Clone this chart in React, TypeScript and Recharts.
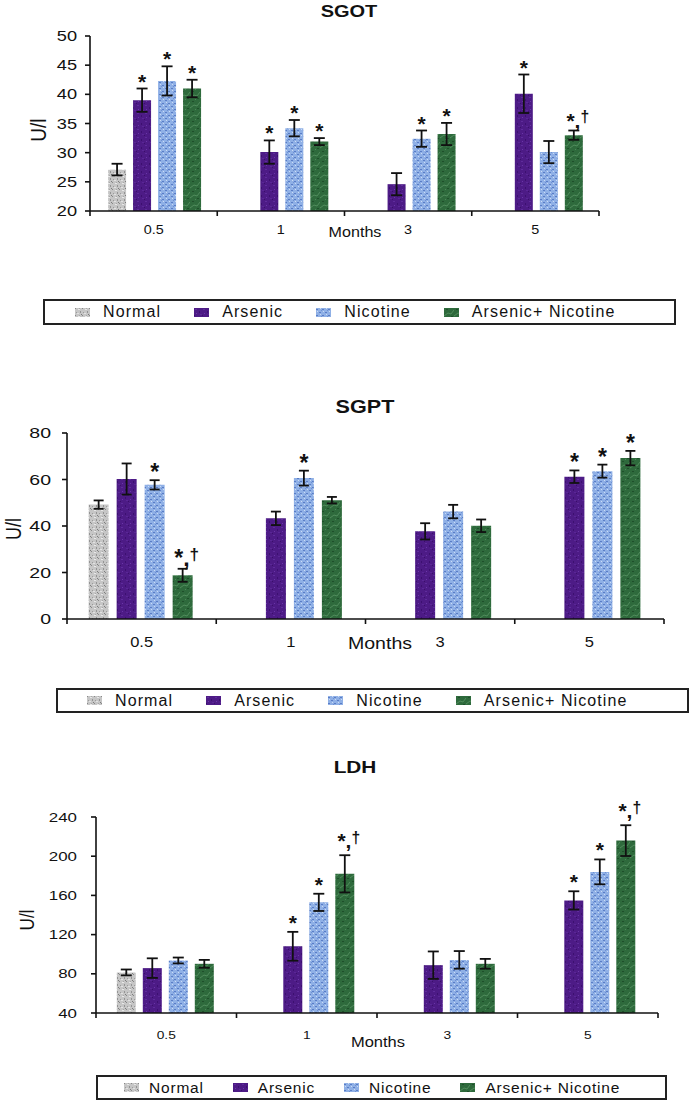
import React from 'react';
import { BarChart, Bar, XAxis, YAxis, ErrorBar, LabelList, Legend, Label } from 'recharts';

const FONT = '"Liberation Sans", Arial, Helvetica, sans-serif';
const INK = '#111';

// ---------- shared categories ----------
const months = ['0.5', '1', '3', '5'];
const groupNames = ['Normal', 'Arsenic', 'Nicotine', 'Arsenic+ Nicotine'];
const seriesKeys = ['normal', 'arsenic', 'nicotine', 'combo'];

// ---------- SGOT ----------
const sgotNormal = [27.1, null, null, null];
const sgotNormalErr = [1.0, null, null, null];
const sgotArsenic = [39.0, 30.1, 24.6, 40.1];
const sgotArsenicErr = [2.0, 2.0, 1.9, 3.3];
const sgotNicotine = [42.3, 34.2, 32.4, 30.1];
const sgotNicotineErr = [2.5, 1.4, 1.4, 1.9];
const sgotCombo = [41.0, 31.9, 33.2, 33.0];
const sgotComboErr = [1.5, 0.6, 1.9, 0.8];
const sgotNormalMark = ['', '', '', ''];
const sgotArsenicMark = ['*', '*', '', '*'];
const sgotNicotineMark = ['*', '*', '*', ''];
const sgotComboMark = ['*', '*', '*', '*,†'];
const sgotTicks = [20, 25, 30, 35, 40, 45, 50];

// ---------- SGPT ----------
const sgptNormal = [49.2, null, null, null];
const sgptNormalErr = [1.8, null, null, null];
const sgptArsenic = [60.2, 43.3, 37.7, 61.2];
const sgptArsenicErr = [6.7, 2.9, 3.5, 2.7];
const sgptNicotine = [57.7, 60.6, 46.2, 63.6];
const sgptNicotineErr = [2.0, 3.2, 2.9, 2.8];
const sgptCombo = [18.8, 51.1, 40.1, 69.2];
const sgptComboErr = [2.8, 1.4, 2.7, 3.1];
const sgptNormalMark = ['', '', '', ''];
const sgptArsenicMark = ['', '', '', '*'];
const sgptNicotineMark = ['*', '*', '', '*'];
const sgptComboMark = ['*,†', '', '', '*'];
const sgptTicks = [0, 20, 40, 60, 80];

// ---------- LDH ----------
const ldhNormal = [81.4, null, null, null];
const ldhNormalErr = [3.0, null, null, null];
const ldhArsenic = [85.8, 108.1, 88.8, 154.9];
const ldhArsenicErr = [10.0, 14.7, 14.0, 9.3];
const ldhNicotine = [93.6, 152.9, 94.2, 184.0];
const ldhNicotineErr = [3.0, 8.8, 9.0, 12.7];
const ldhCombo = [90.2, 182.0, 90.2, 215.9];
const ldhComboErr = [4.0, 19.0, 5.0, 15.7];
const ldhNormalMark = ['', '', '', ''];
const ldhArsenicMark = ['', '*', '', '*'];
const ldhNicotineMark = ['', '*', '', '*'];
const ldhComboMark = ['', '*,†', '', '*,†'];
const ldhTicks = [40, 80, 120, 160, 200, 240];

function buildRows(vals: any[][], errs: any[][], marks: string[][]) {
  return months.map((m, i) => {
    const row: any = { month: m };
    seriesKeys.forEach((k, s) => {
      row[k] = vals[s][i];
      row[k + 'Err'] = errs[s][i];
      row[k + 'Mark'] = marks[s][i];
    });
    return row;
  });
}

const panels = [
  {
    id: 'sgot', title: 'SGOT',
    vals: [sgotNormal, sgotArsenic, sgotNicotine, sgotCombo],
    errs: [sgotNormalErr, sgotArsenicErr, sgotNicotineErr, sgotComboErr],
    marks: [sgotNormalMark, sgotArsenicMark, sgotNicotineMark, sgotComboMark],
    ticks: sgotTicks, domain: [20, 50],
    top: 0, height: 335, margin: { top: 36, right: 91, bottom: 94, left: 0 }, yWidth: 90,
    catGap: '14.2%', barGap: 7,
    yTickFont: 14, yTickSx: 1.3, tickMargin: 8,
    xTickFont: 12, xTickSx: 1.2, xTickBase: 23,
    monthsFont: 14, monthsSx: 1.15, monthsDx: 10.5, monthsBase: 26,
    ulX: 38, ulDy: 6.6, ulFont: 19,
    markFont: 21, markSingle: 0, markCombo: 3, errWidth: 5.5,
    titleX: 349, titleY: 17, titleFont: 16, titleSx: 1.25,
    legend: { left: 43, top: 299, width: 633, height: 26, pad: 30, gap: 33, textGap: 13, font: 16, ls: 1.1 },
  },
  {
    id: 'sgpt', title: 'SGPT',
    vals: [sgptNormal, sgptArsenic, sgptNicotine, sgptCombo],
    errs: [sgptNormalErr, sgptArsenicErr, sgptNicotineErr, sgptComboErr],
    marks: [sgptNormalMark, sgptArsenicMark, sgptNicotineMark, sgptComboMark],
    ticks: sgptTicks, domain: [0, 80],
    top: 390, height: 330, margin: { top: 43, right: 26, bottom: 71, left: 0 }, yWidth: 67,
    catGap: '14.5%', barGap: 8,
    yTickFont: 15, yTickSx: 1.3, tickMargin: 11,
    xTickFont: 15, xTickSx: 1.1, xTickBase: 28,
    monthsFont: 17, monthsSx: 1.15, monthsDx: 14.5, monthsBase: 30,
    ulX: 13, ulDy: 3, ulFont: 18,
    markFont: 23, markSingle: 0, markCombo: 3, errWidth: 5,
    titleX: 365, titleY: 413, titleFont: 18, titleSx: 1.2,
    legend: { left: 56, top: 298, width: 633, height: 25, pad: 29, gap: 33, textGap: 13, font: 16, ls: 1.1 },
  },
  {
    id: 'ldh', title: 'LDH',
    vals: [ldhNormal, ldhArsenic, ldhNicotine, ldhCombo],
    errs: [ldhNormalErr, ldhArsenicErr, ldhNicotineErr, ldhComboErr],
    marks: [ldhNormalMark, ldhArsenicMark, ldhNicotineMark, ldhComboMark],
    ticks: ldhTicks, domain: [40, 240],
    top: 750, height: 355, margin: { top: 67, right: 32, bottom: 62, left: 0 }, yWidth: 96,
    catGap: '14.8%', barGap: 7,
    yTickFont: 13, yTickSx: 1.3, tickMargin: 14,
    xTickFont: 11, xTickSx: 1.25, xTickBase: 26,
    monthsFont: 15, monthsSx: 1.1, monthsDx: 1, monthsBase: 34,
    ulX: 27, ulDy: 5, ulFont: 17,
    markFont: 21, markSingle: 2, markCombo: 7, errWidth: 5.5,
    titleX: 355, titleY: 773, titleFont: 16, titleSx: 1.3,
    legend: { left: 96, top: 325, width: 571, height: 25, pad: 26, gap: 29, textGap: 10, font: 15.5, ls: 0.8 },
  },
];

const makeYTick = (cfg: any) => (props: any) => {
  const { x, y, payload } = props;
  return (
    <text transform={`translate(${x},${y}) scale(${cfg.yTickSx},1)`} textAnchor="end" dy="0.36em"
      fontSize={cfg.yTickFont} fontFamily={FONT} fill={INK}>{payload.value}</text>
  );
};

const makeXTick = (cfg: any) => (props: any) => {
  const { x, y, payload, index, visibleTicksCount } = props;
  const half = payload && payload.offset ? payload.offset : 0;
  const last = index === (visibleTicksCount ?? months.length) - 1;
  return (
    <g>
      <line x1={x - half} y1={y} x2={x - half} y2={y + 5} stroke={INK} strokeWidth={1.6} />
      {last && <line x1={x + half} y1={y} x2={x + half} y2={y + 5} stroke={INK} strokeWidth={1.6} />}
      <text transform={`translate(${x},${y + cfg.xTickBase}) scale(${cfg.xTickSx},1)`} textAnchor="middle"
        fontSize={cfg.xTickFont} fontFamily={FONT} fill={INK}>{payload.value}</text>
    </g>
  );
};

const makeMonths = (cfg: any) => (props: any) => {
  const vb = props.viewBox || {};
  const cx = vb.x + vb.width / 2 + cfg.monthsDx;
  const by = vb.y + cfg.monthsBase;
  return (
    <text transform={`translate(${cx},${by}) scale(${cfg.monthsSx},1)`} textAnchor="middle"
      fontSize={cfg.monthsFont} fontFamily={FONT} fill={INK}>Months</text>
  );
};

const makeUl = (cfg: any) => (props: any) => {
  const vb = props.viewBox || {};
  const cx = vb.x + cfg.ulX;
  const cy = vb.y + vb.height / 2 + cfg.ulDy;
  return (
    <text transform={`translate(${cx},${cy}) rotate(-90) scale(1,1.2)`} textAnchor="middle" dy="0.35em"
      fontSize={cfg.ulFont} fontFamily={FONT} fill={INK}>U/l</text>
  );
};

const makeMark = (cfg: any, s: number) => (props: any) => {
  const mark = props.value;
  if (!mark) return null;
  const i = props.index;
  const v = cfg.vals[s][i];
  const e = cfg.errs[s][i] || 0;
  if (v == null) return null;
  const vb = props.viewBox && props.viewBox.width != null ? props.viewBox : props;
  const h = Math.abs(vb.height);
  const top = Math.min(vb.y, vb.y + vb.height);
  const ppu = h / (v - cfg.domain[0]);
  const errTop = top - e * ppu;
  const cx = vb.x + vb.width / 2;
  if (mark === '*') {
    return (
      <text x={cx} y={errTop - cfg.markSingle} textAnchor="middle" fontSize={cfg.markFont}
        fontWeight={700} fontFamily={FONT} fill={INK}>*</text>
    );
  }
  return (
    <text x={cx + 4} y={errTop - cfg.markCombo} textAnchor="middle" fontSize={cfg.markFont}
      fontWeight={700} fontFamily={FONT} fill={INK}>
      <tspan>*</tspan><tspan>,</tspan><tspan fontSize="0.75em" dy="-0.35em">†</tspan>
    </text>
  );
};

const makeLegend = (cfg: any) => () => {
  const L = cfg.legend;
  return (
    <div style={{
      width: L.width, height: L.height, boxSizing: 'border-box', border: '2px solid #222',
      display: 'flex', alignItems: 'center', paddingLeft: L.pad, background: '#fff',
      fontFamily: FONT, fontSize: L.font, letterSpacing: L.ls, color: INK, whiteSpace: 'nowrap',
    }}>
      {groupNames.map((n, i) => (
        <div key={n} style={{ display: 'flex', alignItems: 'center', marginRight: L.gap }}>
          <svg width={15} height={9} style={{ display: 'block' }}>
            <rect width={15} height={9} fill={`url(#pat-${seriesKeys[i]})`} />
          </svg>
          <span style={{ marginLeft: L.textGap, lineHeight: 1 }}>{n}</span>
        </div>
      ))}
    </div>
  );
};

function Panel({ cfg }: { cfg: any }) {
  const rows = buildRows(cfg.vals, cfg.errs, cfg.marks);
  return (
    <div style={{ position: 'absolute', left: 0, top: cfg.top }}>
      <BarChart width={690} height={cfg.height} data={rows} margin={cfg.margin}
        barCategoryGap={cfg.catGap} barGap={cfg.barGap}>
        <XAxis dataKey="month" height={30} tickSize={0} tickMargin={0} tickLine={false} interval={0}
          axisLine={{ stroke: INK, strokeWidth: 1.6 }} tick={makeXTick(cfg)}>
          <Label content={makeMonths(cfg)} />
        </XAxis>
        <YAxis type="number" domain={cfg.domain} ticks={cfg.ticks} allowDataOverflow interval={0}
          width={cfg.yWidth} tickSize={5} tickMargin={cfg.tickMargin}
          axisLine={{ stroke: INK, strokeWidth: 1.6 }} tickLine={{ stroke: INK, strokeWidth: 1.6 }}
          tick={makeYTick(cfg)}>
          <Label content={makeUl(cfg)} />
        </YAxis>
        {seriesKeys.map((k, s) => (
          <Bar key={k} dataKey={k} name={groupNames[s]} fill={`url(#pat-${k})`} isAnimationActive={false}>
            <ErrorBar dataKey={k + 'Err'} width={cfg.errWidth} strokeWidth={1.8} stroke={INK} direction="y" />
            <LabelList dataKey={k + 'Mark'} content={makeMark(cfg, s)} />
          </Bar>
        ))}
        <Legend layout="horizontal" verticalAlign="middle" align="center" content={makeLegend(cfg)}
          wrapperStyle={{ left: cfg.legend.left, top: cfg.legend.top, width: cfg.legend.width, height: cfg.legend.height }} />
      </BarChart>
    </div>
  );
}

function Patterns() {
  return (
    <defs>
      <pattern id="pat-normal" width="7" height="7" patternUnits="userSpaceOnUse">
        <rect width="7" height="7" fill="#c6c6c6" />
        <rect x="0" y="0" width="1" height="1" fill="#888" />
        <rect x="3" y="1" width="2" height="1" fill="#e8e8e8" />
        <rect x="5" y="3" width="1" height="2" fill="#949494" />
        <rect x="1" y="4" width="1" height="1" fill="#9c9c9c" />
        <rect x="2" y="5" width="2" height="1" fill="#e2e2e2" />
        <rect x="6" y="6" width="1" height="1" fill="#7c7c7c" />
        <rect x="4" y="0" width="1" height="1" fill="#a8a8a8" />
      </pattern>
      <pattern id="pat-arsenic" width="8" height="8" patternUnits="userSpaceOnUse">
        <rect width="8" height="8" fill="#4d1b86" />
        <rect x="1" y="1" width="2" height="1" fill="#5f2c9c" />
        <rect x="5" y="3" width="1" height="2" fill="#3c1070" />
        <rect x="2" y="5" width="1" height="1" fill="#6a36a8" />
        <rect x="6" y="6" width="2" height="1" fill="#5a2796" />
        <rect x="0" y="7" width="1" height="1" fill="#3a0f6a" />
      </pattern>
      <pattern id="pat-nicotine" width="6" height="6" patternUnits="userSpaceOnUse">
        <rect width="6" height="6" fill="#8fb0e6" />
        <rect x="0" y="1" width="2" height="1" fill="#5a7dc6" />
        <rect x="3" y="4" width="2" height="1" fill="#5a7dc6" />
        <rect x="4" y="0" width="1" height="1" fill="#cddcf4" />
        <rect x="1" y="3" width="1" height="1" fill="#cddcf4" />
        <rect x="5" y="2" width="1" height="1" fill="#6f91d2" />
      </pattern>
      <pattern id="pat-combo" width="10" height="10" patternUnits="userSpaceOnUse">
        <rect width="10" height="10" fill="#2e6a3c" />
        <path d="M0 8 L4 5 L7 6 L10 2" stroke="#5d9a69" strokeWidth="0.7" fill="none" />
        <rect x="2" y="1" width="2" height="1" fill="#1f4f2b" />
        <rect x="7" y="8" width="2" height="1" fill="#1f4f2b" />
        <rect x="5" y="9" width="1" height="1" fill="#4b8a58" />
      </pattern>
    </defs>
  );
}

export default function App() {
  return (
    <div style={{ position: 'absolute', left: 0, top: 0, width: 690, height: 1105, background: '#fff', overflow: 'hidden' }}>
      {panels.map((cfg) => <Panel key={cfg.id} cfg={cfg} />)}
      <svg width={690} height={1105} style={{ position: 'absolute', left: 0, top: 0, pointerEvents: 'none' }}>
        <Patterns />
        {panels.map((cfg) => (
          <text key={cfg.id} transform={`translate(${cfg.titleX},${cfg.titleY}) scale(${cfg.titleSx},1)`}
            textAnchor="middle" fontSize={cfg.titleFont} fontWeight={700} fontFamily={FONT} fill={INK}>
            {cfg.title}
          </text>
        ))}
      </svg>
    </div>
  );
}
